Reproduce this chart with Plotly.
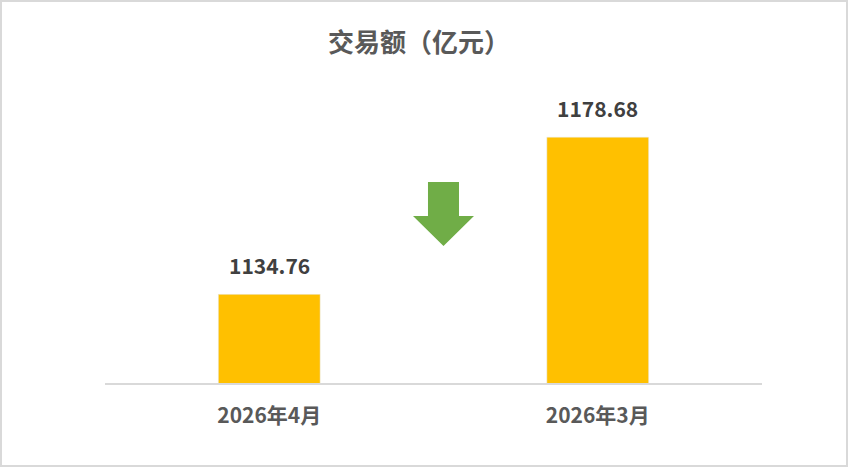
import plotly.graph_objects as go

# 数据
categories = ["2026年4月", "2026年3月"]
values = [1134.76, 1178.68]
labels = ["1134.76", "1178.68"]

W, H = 848, 467
L, R, T, B = 105, 86, 90, 84
pw, ph = W - L - R, H - T - B


def px(x):
    return (x - L) / pw


def py(y):
    return (H - B - y) / ph


fig = go.Figure()
fig.add_bar(x=categories, y=values, width=0.31, marker_color="#FFC000", hoverinfo="skip")

# 数值标签
for c, v, t in zip(categories, values, labels):
    fig.add_annotation(x=c, y=v, text=t, showarrow=False, yanchor="bottom", yshift=12,
                       font=dict(family="Noto Sans CJK SC", size=21, color="#404040", weight="bold"))

# 绿色向下箭头
arrow = [(428, 182), (459, 182), (459, 216), (474, 216), (443.5, 246),
         (413, 216), (428, 216)]
path = "M " + " L ".join(f"{px(x):.4f},{py(y):.4f}" for x, y in arrow) + " Z"
fig.add_shape(type="path", path=path, xref="paper", yref="paper",
              fillcolor="#70AD47", line_width=0)

# 外框
fig.add_shape(type="rect", xref="paper", yref="paper",
              x0=px(1), x1=px(847), y0=py(466), y1=py(1),
              line=dict(color="#D9D9D9", width=2))

fig.update_layout(
    width=W, height=H,
    margin=dict(l=L, r=R, t=T, b=B),
    paper_bgcolor="white", plot_bgcolor="white",
    showlegend=False,
    title=dict(text="交易额（亿元）", x=419 / W, xanchor="center", y=1 - 43 / H, yanchor="middle",
               font=dict(family="Noto Sans CJK SC", size=26, color="#595959", weight="bold")),
    font=dict(family="Noto Sans CJK SC"),
)
fig.update_xaxes(showline=True, linecolor="#D9D9D9", linewidth=1.5, ticks="",
                 tickfont=dict(size=21, color="#595959", weight="bold"), ticklabelstandoff=13)
fig.update_yaxes(range=[1110, 1110 + ph / 3.58], visible=False, showgrid=False)

fig.write_html("out.html", config={"displayModeBar": False},
               post_script="document.body.style.margin='0px';")
